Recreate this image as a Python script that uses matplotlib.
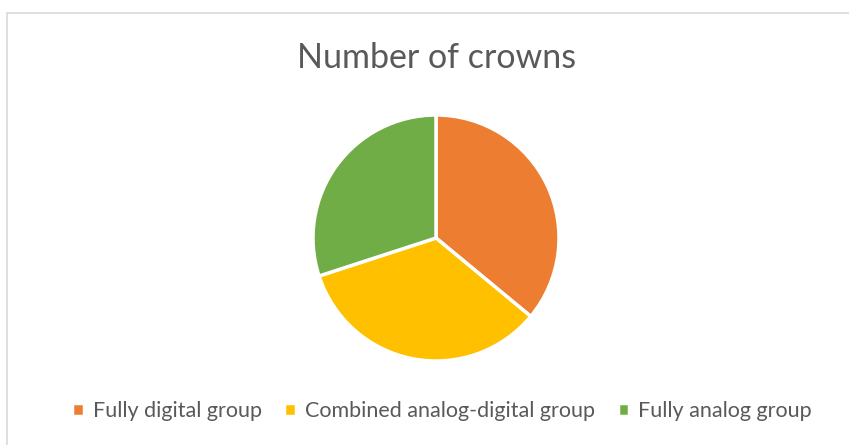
import matplotlib.pyplot as plt
from matplotlib.patches import Rectangle

labels = ['Fully digital group', 'Combined analog-digital group', 'Fully analog group']
values = [36, 34, 30]
colors = ['#ED7D31', '#FFC000', '#70AD47']

plt.rcParams['font.family'] = ['Lato', 'DejaVu Sans']

W, H = 849, 445
fig = plt.figure(figsize=(W / 100, H / 100), dpi=100)

# light chart frame, cut off at right and bottom
fig.patches.append(Rectangle((7 / W, -0.1), 1.1, 1.1 - 13 / H,
                             transform=fig.transFigure, fill=False,
                             edgecolor='#D9D9D9', linewidth=1.2))

r = 123
cx, cy = 436, 238
ax = fig.add_axes([(cx - r) / W, (H - cy - r) / H, 2 * r / W, 2 * r / H])
wedges, _ = ax.pie(values, colors=colors, startangle=90, counterclock=False,
                   wedgeprops=dict(edgecolor='white', linewidth=2.5))
ax.set_xlim(-1, 1)
ax.set_ylim(-1, 1)

fig.text(cx / W + 0.001, 1 - 58 / H, 'Number of crowns', ha='center', va='center',
         fontsize=24.5, color='#595959')

leg = fig.legend(wedges, labels, loc='center', bbox_to_anchor=(442 / W, 1 - 411 / H),
                 ncol=3, frameon=False, fontsize=15.5, handlelength=0.55,
                 handleheight=0.55, handletextpad=0.4, columnspacing=1.05)
for t in leg.get_texts():
    t.set_color('#595959')

fig.savefig('out.png', dpi=100)
